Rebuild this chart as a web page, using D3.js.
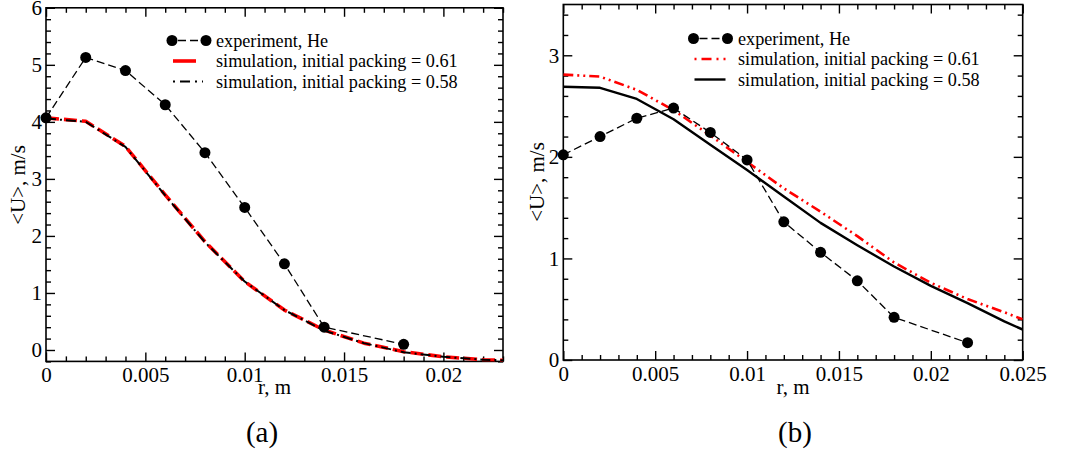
<!DOCTYPE html>
<html>
<head>
<meta charset="utf-8">
<script src="https://cdn.jsdelivr.net/npm/d3@7"></script>
<style>
  html, body { margin: 0; padding: 0; background: #fff; }
  svg text { font-family: "Liberation Serif", "Times New Roman", "DejaVu Serif", serif !important; }
</style>
</head>
<body>
<svg id="chart" width="1067" height="452"></svg>
<script>
// ---- Panel (a): radial velocity profile ----
const rExpA = [0, 0.002, 0.004, 0.006, 0.008, 0.010, 0.012, 0.014, 0.018];
const uExpA = [4.07, 5.13, 4.90, 4.30, 3.46, 2.50, 1.51, 0.40, 0.10];
const rSimA = [0, 0.002, 0.004, 0.006, 0.008, 0.010, 0.012, 0.014, 0.016, 0.018, 0.020, 0.022, 0.023];
const uSimA061 = [4.07, 4.01, 3.57, 2.72, 1.90, 1.20, 0.70, 0.35, 0.12, -0.03, -0.12, -0.17, -0.18];
const uSimA058 = [4.06, 4.00, 3.56, 2.71, 1.89, 1.20, 0.70, 0.34, 0.12, -0.04, -0.12, -0.17, -0.18];
const xTicksA = [0, 0.005, 0.01, 0.015, 0.02];
const xTickLabelsA = ["0", "0.005", "0.01", "0.015", "0.02"];
const yTicksA = [0, 1, 2, 3, 4, 5, 6];

// ---- Panel (b) ----
const rExpB = [0, 0.002, 0.004, 0.006, 0.008, 0.010, 0.012, 0.014, 0.016, 0.018, 0.022];
const uExpB = [2.02, 2.20, 2.38, 2.48, 2.24, 1.97, 1.36, 1.06, 0.78, 0.42, 0.17];
const rSimB = [0, 0.002, 0.004, 0.006, 0.008, 0.010, 0.012, 0.014, 0.016, 0.018, 0.020, 0.022, 0.024, 0.025];
const uSimB061 = [2.81, 2.79, 2.66, 2.46, 2.21, 1.95, 1.69, 1.46, 1.22, 0.96, 0.76, 0.60, 0.47, 0.40];
const uSimB058 = [2.69, 2.68, 2.57, 2.37, 2.12, 1.87, 1.61, 1.35, 1.13, 0.92, 0.73, 0.56, 0.38, 0.30];
const xTicksB = [0, 0.005, 0.01, 0.015, 0.02, 0.025];
const xTickLabelsB = ["0", "0.005", "0.01", "0.015", "0.02", "0.025"];
const yTicksB = [0, 1, 2, 3];

const legendLabels = ["experiment, He", "simulation, initial packing = 0.61", "simulation, initial packing = 0.58"];
const panelTags = ["(a)", "(b)"];
const xTitle = "r, m";
const yTitle = "<U>, m/s";

const svg = d3.select("#chart");
svg.append("rect").attr("width", 1067).attr("height", 452).attr("fill", "#fff");

function zip(xs, ys) { return xs.map((x, i) => [x, ys[i]]); }
function minorValues(domain, step, majors) {
  const out = [];
  const n0 = Math.ceil(domain[0] / step - 1e-9), n1 = Math.floor(domain[1] / step + 1e-9);
  for (let k = n0; k <= n1; k++) {
    const v = +(k * step).toFixed(6);
    if (!majors.some(m => Math.abs(m - v) < step * 1e-3)) out.push(v);
  }
  return out;
}

function drawPanel(cfg) {
  const g = svg.append("g").attr("class", cfg.id);
  const x = d3.scaleLinear().domain(cfg.xDomain).range(cfg.xRange);
  const y = d3.scaleLinear().domain(cfg.yDomain).range(cfg.yRange);
  const [x0, x1] = cfg.xRange, [y0, y1] = cfg.yRange;

  const clipId = "clip-" + cfg.id;
  g.append("clipPath").attr("id", clipId).append("rect")
    .attr("x", x0).attr("y", y1).attr("width", x1 - x0).attr("height", y0 - y1);

  // inward-pointing major and minor ticks on all four sides
  const xMinor = minorValues(cfg.xDomain, 0.001, cfg.xTicks);
  const yMinor = minorValues(cfg.yDomain, 0.2, cfg.yTicks);
  const tickStyle = sel => {
    sel.attr("font-family", null);
    sel.select(".domain").remove();
    sel.selectAll(".tick line").attr("stroke", "#000").attr("stroke-width", 1.4);
    sel.selectAll("text").attr("font-size", 21).attr("fill", "#000");
  };
  g.append("g").attr("transform", `translate(0,${y0})`)
    .call(d3.axisBottom(x).tickValues(cfg.xTicks).tickSize(-9).tickPadding(6)
      .tickFormat((d, i) => cfg.xTickLabels[i]))
    .call(tickStyle);
  g.append("g").attr("transform", `translate(0,${y0})`)
    .call(d3.axisBottom(x).tickValues(xMinor).tickSize(-5).tickFormat(""))
    .call(tickStyle);
  g.append("g").attr("transform", `translate(0,${y1})`)
    .call(d3.axisTop(x).tickValues(cfg.xTicks).tickSize(-9).tickFormat(""))
    .call(tickStyle);
  g.append("g").attr("transform", `translate(0,${y1})`)
    .call(d3.axisTop(x).tickValues(xMinor).tickSize(-5).tickFormat(""))
    .call(tickStyle);
  g.append("g").attr("transform", `translate(${x0},0)`)
    .call(d3.axisLeft(y).tickValues(cfg.yTicks).tickSize(-9).tickPadding(4).tickFormat(d3.format("d")))
    .call(tickStyle);
  g.append("g").attr("transform", `translate(${x0},0)`)
    .call(d3.axisLeft(y).tickValues(yMinor).tickSize(-5).tickFormat(""))
    .call(tickStyle);
  g.append("g").attr("transform", `translate(${x1},0)`)
    .call(d3.axisRight(y).tickValues(cfg.yTicks).tickSize(-9).tickFormat(""))
    .call(tickStyle);
  g.append("g").attr("transform", `translate(${x1},0)`)
    .call(d3.axisRight(y).tickValues(yMinor).tickSize(-5).tickFormat(""))
    .call(tickStyle);

  // plotting frame
  g.append("rect").attr("x", x0).attr("y", y1).attr("width", x1 - x0).attr("height", y0 - y1)
    .attr("fill", "none").attr("stroke", "#000").attr("stroke-width", 1.6);

  const line = d3.line().x(d => x(d[0])).y(d => y(d[1]));
  const plot = g.append("g").attr("clip-path", `url(#${clipId})`);

  cfg.series.forEach(s => {
    plot.append("path").datum(zip(s.r, s.u)).attr("d", line)
      .attr("fill", "none").attr("stroke", s.color).attr("stroke-width", s.width)
      .attr("stroke-dasharray", s.dash || null).attr("stroke-linejoin", "round");
  });

  // experimental data: dashed line with filled circles
  const exp = zip(cfg.rExp, cfg.uExp);
  g.append("path").datum(exp).attr("d", line)
    .attr("fill", "none").attr("stroke", "#000").attr("stroke-width", 1.3)
    .attr("stroke-dasharray", "8,4");
  g.selectAll("circle.exp").data(exp).join("circle").attr("class", "exp")
    .attr("cx", d => x(d[0])).attr("cy", d => y(d[1])).attr("r", 5.5).attr("fill", "#000");

  // legend
  const lg = g.append("g");
  const lx = cfg.legend.x, ly = cfg.legend.y, dy = 20.5;
  lg.append("line").attr("x1", lx).attr("x2", lx + 34).attr("y1", ly).attr("y2", ly)
    .attr("stroke", "#000").attr("stroke-width", 1.3).attr("stroke-dasharray", "8,4").attr("stroke-dashoffset", -6);
  lg.append("circle").attr("cx", lx).attr("cy", ly).attr("r", 5.5).attr("fill", "#000");
  lg.append("circle").attr("cx", lx + 34).attr("cy", ly).attr("r", 5.5).attr("fill", "#000");
  cfg.series.forEach((s, i) => {
    lg.append("line").attr("x1", lx + 1).attr("x2", lx + s.legendLen).attr("y1", ly + dy * (i + 1)).attr("y2", ly + dy * (i + 1))
      .attr("stroke", s.color).attr("stroke-width", s.width)
      .attr("stroke-dasharray", s.legendDash || null);
  });
  legendLabels.forEach((t, i) => {
    lg.append("text").attr("x", cfg.legend.tx).attr("y", ly + dy * i + 6)
      .attr("font-size", 18.2).attr("fill", "#000").text(t);
  });

  // axis titles and panel tag
  g.append("text").attr("x", (x0 + x1) / 2).attr("y", 394).attr("text-anchor", "middle")
    .attr("font-size", 21).text(xTitle);
  g.append("text").attr("transform", `translate(${cfg.yTitleX},${cfg.yTitleY}) rotate(-90)`)
    .attr("text-anchor", "middle").attr("dominant-baseline", "central")
    .attr("font-size", 21).text(yTitle);
  g.append("text").attr("x", cfg.tagX).attr("y", 442).attr("text-anchor", "middle")
    .attr("font-size", 29).text(cfg.tag);
}

drawPanel({
  id: "a",
  xDomain: [0, 0.023], xRange: [46, 503],
  yDomain: [-0.2, 6], yRange: [361.4, 7.8],
  xTicks: xTicksA, xTickLabels: xTickLabelsA, yTicks: yTicksA,
  rExp: rExpA, uExp: uExpA,
  series: [
    { r: rSimA, u: uSimA061, color: "#ff0000", width: 3.6, dash: "13,5", legendLen: 24 },
    { r: rSimA, u: uSimA058, color: "#000", width: 2, dash: "10,4,2,4", legendDash: "2,5,10,5", legendLen: 31 }
  ],
  legend: { x: 172, y: 40.5, tx: 216 },
  yTitleX: 18, yTitleY: 185,
  tag: panelTags[0], tagX: 262
});

drawPanel({
  id: "b",
  xDomain: [0, 0.025], xRange: [563.3, 1022.7],
  yDomain: [0, 3.5], yRange: [360, 4.5],
  xTicks: xTicksB, xTickLabels: xTickLabelsB, yTicks: yTicksB,
  rExp: rExpB, uExp: uExpB,
  series: [
    { r: rSimB, u: uSimB061, color: "#ff0000", width: 2.6, dash: "10,4,2,4,2,4", legendDash: "2,5,10,5", legendLen: 32 },
    { r: rSimB, u: uSimB058, color: "#000", width: 2.4, dash: null, legendLen: 32 }
  ],
  legend: { x: 693.5, y: 38.5, tx: 738 },
  yTitleX: 537, yTitleY: 182,
  tag: panelTags[1], tagX: 795
});
</script>
</body>
</html>
